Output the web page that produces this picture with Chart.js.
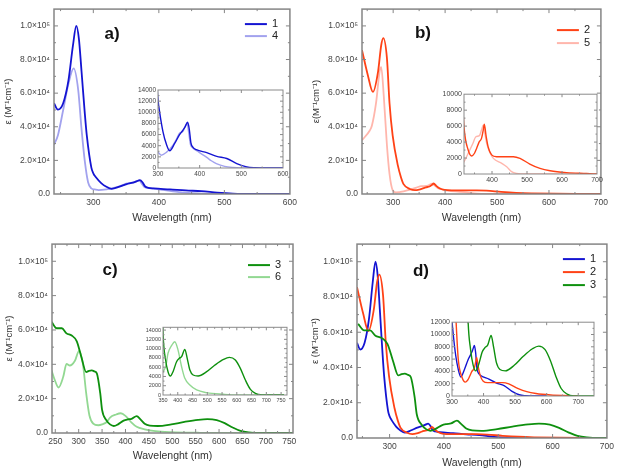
<!DOCTYPE html>
<html>
<head>
<meta charset="utf-8">
<script src="https://cdn.jsdelivr.net/npm/chart.js@4.4.1/dist/chart.umd.min.js"></script>
<style>
body { margin: 0; background: #fff; }
#wrap { position: relative; width: 618px; height: 470px; overflow: hidden; }
canvas { position: absolute; }
</style>
</head>
<body>
<div id="wrap"></div>
<script>
// compound 1 (dark blue)
var wl1 = [240, 246, 254, 262, 269, 274, 278, 282, 287, 290, 297, 300, 304, 312, 320, 328, 340, 351, 358, 365, 371, 375, 379, 384, 392, 417, 441, 465, 489, 513, 533, 560, 600];
var eps1 = [54000, 50200, 54000, 67400, 88500, 100000, 92300, 73000, 48000, 35000, 15700, 12300, 10000, 6500, 4300, 3100, 4400, 5900, 6600, 7400, 8200, 7000, 4500, 3700, 3300, 2760, 2100, 1700, 800, 200, 50, 0, 0];
// compound 4 (light blue)
var wl4 = [240, 246, 254, 262, 270, 277, 282, 287, 292, 297, 302, 308, 320, 336, 345, 352, 360, 366, 370, 374, 378, 385, 395, 405, 417, 428, 440, 460, 480, 500, 600];
var eps4 = [29300, 35000, 50000, 65500, 74700, 61700, 38700, 19500, 7000, 3300, 2700, 2300, 2800, 4100, 5300, 6300, 6600, 7600, 7900, 6200, 4200, 3500, 3000, 2500, 1900, 1300, 800, 300, 100, 30, 0];
// compound 2 (red)
var wl2 = [240, 251, 261, 271, 277, 281, 288, 293, 299, 309, 315, 320, 332, 342, 350, 356, 363, 370, 375, 378, 383, 389, 399, 413, 440, 461, 480, 508, 537, 566, 613, 670, 700];
var eps2 = [85600, 71000, 60700, 73000, 88500, 92700, 80800, 54000, 34900, 17000, 10000, 5900, 3000, 2250, 2600, 3200, 4000, 4460, 5500, 6250, 4800, 3400, 2400, 2170, 2170, 2170, 1960, 1250, 700, 400, 170, 60, 0];
// compound 5 (light red)
var wl5 = [240, 255, 259, 267, 274, 277, 282, 288, 293, 299, 305, 320, 332, 345, 354, 364, 370, 375, 380, 385, 395, 404, 428, 442, 456, 470, 500, 700];
var eps5 = [32000, 37800, 40600, 54000, 73000, 75500, 57900, 29000, 11900, 2300, 1000, 1540, 2600, 3800, 4670, 4800, 5500, 6100, 5000, 3800, 2600, 1960, 1330, 900, 290, 80, 0, 0];
// compound 3 (dark green)
var wl3 = [242, 253, 264, 274, 285, 296, 306, 316, 322, 328, 334, 339, 346, 350, 359, 367, 375, 384, 396, 405, 413, 424, 432, 441, 452, 469, 498, 526, 555, 575, 595, 612, 629, 646, 663, 686, 760];
var eps3 = [64700, 61000, 61000, 58000, 56800, 53400, 44000, 35500, 36200, 36500, 35800, 34600, 23300, 13500, 7500, 5030, 4090, 5030, 7180, 7900, 8260, 9840, 7900, 5380, 4310, 4090, 5030, 6460, 7680, 8110, 7540, 5740, 3230, 1220, 360, 0, 0];
// compound 6 (light green)
var wl6 = [242, 249, 257, 267, 274, 281, 292, 301, 309, 316, 323, 331, 342, 350, 360, 367, 380, 390, 401, 413, 424, 441, 464, 498, 555, 600, 760];
var eps6 = [36500, 30800, 26500, 32700, 40200, 39300, 42100, 47800, 40200, 23300, 10200, 5500, 4500, 5000, 6400, 9000, 10770, 11490, 9690, 6100, 3590, 2150, 1080, 500, 150, 0, 0];

// tick values
var yMainTicks = [0, 20000, 40000, 60000, 80000, 100000];
var xTicksA = [300, 400, 500, 600];
var xTicksBD = [300, 400, 500, 600, 700];
var xTicksC = [250, 300, 350, 400, 450, 500, 550, 600, 650, 700, 750];
var xInsetA = [300, 400, 500, 600];
var xInsetB = [400, 500, 600, 700];
var xInsetC = [350, 400, 450, 500, 550, 600, 650, 700, 750];
var xInsetD = [300, 400, 500, 600, 700];
var yInsetA = [0, 2000, 4000, 6000, 8000, 10000, 12000, 14000];
var yInsetB = [0, 2000, 4000, 6000, 8000, 10000];
var yInsetC = [0, 2000, 4000, 6000, 8000, 10000, 12000, 14000];
var yInsetD = [0, 2000, 4000, 6000, 8000, 10000, 12000];

var FONT = '"Liberation Sans", Arial, sans-serif';
var c1 = '#1414d2', c4 = '#a2a2ee', c2 = '#ff4216', c5 = '#ffb6ac', c3 = '#0e900e', c6 = '#92d892';

function pts(wl, eps) {
    return wl.map(function (w, i) { return {x: w, y: eps[i]}; });
}
var sup = {'0':'⁰','1':'¹','2':'²','3':'³','4':'⁴','5':'⁵','6':'⁶','7':'⁷','8':'⁸','9':'⁹'};
function sci(v) {
    if (v === 0) return '0.0';
    var e = Math.floor(Math.log10(v) + 1e-9);
    var m = v / Math.pow(10, e);
    return m.toFixed(1) + '×10' + String(e).split('').map(function (d) { return sup[d]; }).join('');
}
function fixTicks(arr) {
    return function (s) { s.ticks = arr.map(function (v) { return {value: v}; }); };
}

// frame, inward ticks, panel tag and legend drawn inside the plot area
var framePlugin = {
    id: 'frame',
    beforeDatasetsDraw: function (chart, args, o) {
        if (!o.fill) return;
        var a = chart.chartArea, ctx = chart.ctx;
        ctx.save();
        ctx.fillStyle = '#fff';
        ctx.fillRect(a.left, a.top, a.right - a.left, a.bottom - a.top);
        ctx.restore();
    },
    afterDraw: function (chart, args, o) {
        var a = chart.chartArea, ctx = chart.ctx, xs = chart.scales.x, ys = chart.scales.y;
        ctx.save();
        ctx.strokeStyle = o.color;
        ctx.lineWidth = o.width;
        ctx.strokeRect(a.left, a.top, a.right - a.left, a.bottom - a.top);
        ctx.lineWidth = 1;
        ctx.beginPath();
        var L = o.tick, l = o.tick / 2;
        function xt(v, len) {
            var p = xs.getPixelForValue(v);
            if (p < a.left + 1 || p > a.right - 1) return;
            ctx.moveTo(p, a.bottom); ctx.lineTo(p, a.bottom - len);
            ctx.moveTo(p, a.top); ctx.lineTo(p, a.top + len);
        }
        function yt(v, len) {
            var p = ys.getPixelForValue(v);
            if (p < a.top + 1 || p > a.bottom - 1) return;
            ctx.moveTo(a.left, p); ctx.lineTo(a.left + len, p);
            ctx.moveTo(a.right, p); ctx.lineTo(a.right - len, p);
        }
        var xv = xs.ticks.map(function (t) { return t.value; });
        var yv = ys.ticks.map(function (t) { return t.value; });
        var dx = xv[1] - xv[0], dy = yv[1] - yv[0];
        for (var k = -1; xv[0] + k * dx / 2 <= xs.max; k++) xt(xv[0] + k * dx / 2, k % 2 === 0 ? L : l);
        for (var j = 0; yv[0] + j * dy / 2 <= ys.max; j++) yt(yv[0] + j * dy / 2, j % 2 === 0 ? L : l);
        ctx.stroke();
        if (o.tag) {
            ctx.fillStyle = '#111';
            ctx.font = 'bold 17px ' + FONT;
            ctx.textAlign = 'center';
            ctx.textBaseline = 'middle';
            ctx.fillText(o.tag, a.left + o.tagX, a.top + o.tagY);
        }
        if (o.legend) {
            ctx.font = '11px ' + FONT;
            ctx.textAlign = 'left';
            ctx.textBaseline = 'middle';
            o.legend.forEach(function (it, i) {
                var y = a.top + o.legY + i * o.legGap;
                ctx.strokeStyle = it.color;
                ctx.lineWidth = 2;
                ctx.beginPath();
                ctx.moveTo(a.right - o.legX, y);
                ctx.lineTo(a.right - o.legX + 22, y);
                ctx.stroke();
                ctx.fillStyle = '#222';
                ctx.fillText(it.label, a.right - o.legX + 27, y);
            });
        }
        ctx.restore();
    }
};

function makeCanvas(left, top, w, h) {
    var c = document.createElement('canvas');
    c.width = w; c.height = h;
    c.style.left = left + 'px'; c.style.top = top + 'px';
    c.style.width = w + 'px'; c.style.height = h + 'px';
    document.getElementById('wrap').appendChild(c);
    return c;
}

function lines(list, bw) {
    return list.map(function (s) {
        return {data: pts(s[0], s[1]), borderColor: s[2], borderWidth: bw, pointRadius: 0,
                cubicInterpolationMode: 'monotone', fill: false};
    });
}

function drawMain(p) {
    var cv = makeCanvas(p.left, p.top, p.w, p.h);
    return new Chart(cv, {
        type: 'line',
        data: {datasets: lines(p.series, 1.8)},
        plugins: [framePlugin],
        options: {
            responsive: false, animation: false, devicePixelRatio: 1,
            layout: {padding: {top: p.padTop, right: p.padRight, left: 0, bottom: 0}},
            plugins: {
                legend: {display: false}, tooltip: {enabled: false},
                frame: {color: '#858585', width: 1.5, tick: 4, tag: p.tag, tagX: p.tagX, tagY: p.tagY,
                        legend: p.legend, legX: p.legX, legY: p.legY, legGap: p.legGap}
            },
            scales: {
                x: {
                    type: 'linear', min: p.xmin, max: p.xmax,
                    grid: {display: false, drawTicks: false}, border: {display: false},
                    afterBuildTicks: fixTicks(p.xticks),
                    ticks: {autoSkip: false, maxRotation: 0, padding: 4,
                            color: '#444', font: {family: FONT, size: 8.5}},
                    title: {display: true, text: p.xtitle, color: '#333', font: {family: FONT, size: 10.5},
                            padding: {top: 0, bottom: p.xtPad}},
                    afterFit: function (s) { s.height = p.xh; }
                },
                y: {
                    min: 0, max: 110000,
                    grid: {display: false, drawTicks: false}, border: {display: false},
                    afterBuildTicks: fixTicks(yMainTicks),
                    ticks: {autoSkip: false, padding: 4, color: '#444',
                            font: {family: FONT, size: 8.5}, callback: function (v) { return sci(v); }},
                    title: {display: true, text: p.ytitle, color: '#333', font: {family: FONT, size: 9.5},
                            padding: {top: p.ytPad, bottom: 0}},
                    afterFit: function (s) { s.width = p.yw; }
                }
            }
        }
    });
}

function drawInset(p) {
    var cv = makeCanvas(p.left, p.top, p.w, p.h);
    return new Chart(cv, {
        type: 'line',
        data: {datasets: lines(p.series, 1.4)},
        plugins: [framePlugin],
        options: {
            responsive: false, animation: false, devicePixelRatio: 1,
            layout: {padding: {top: p.padTop, right: p.padRight, left: 0, bottom: 0}},
            plugins: {
                legend: {display: false}, tooltip: {enabled: false},
                frame: {color: '#8a8a8a', width: 1, tick: 3, fill: true}
            },
            scales: {
                x: {
                    type: 'linear', min: p.xmin, max: p.xmax,
                    grid: {display: false, drawTicks: false}, border: {display: false},
                    afterBuildTicks: fixTicks(p.xticks),
                    ticks: {autoSkip: false, maxRotation: 0, padding: 2,
                            color: '#444', font: {family: FONT, size: p.fs}, callback: function (v) { return String(v); }},
                    afterFit: function (s) { s.height = p.xh; }
                },
                y: {
                    min: 0, max: p.ymax,
                    grid: {display: false, drawTicks: false}, border: {display: false},
                    afterBuildTicks: fixTicks(p.yticks),
                    ticks: {autoSkip: false, padding: 2, color: '#444',
                            font: {family: FONT, size: p.fs}, callback: function (v) { return String(v); }},
                    afterFit: function (s) { s.width = p.yw; }
                }
            }
        }
    });
}

var yTitle = 'ε (M⁻¹cm⁻¹)';

// a)
drawMain({left: 0, top: 0, w: 301, h: 230, padTop: 2, padRight: 8, yw: 54, xh: 36,
    xmin: 240, xmax: 600, xticks: xTicksA, xtitle: 'Wavelength (nm)', ytitle: yTitle, xtPad: 6, ytPad: 3,
    series: [[wl1, eps1, c1], [wl4, eps4, c4]],
    tag: 'a)', tagX: 58, tagY: 25,
    legend: [{label: '1', color: c1}, {label: '4', color: c4}], legX: 45, legY: 15, legGap: 12});
drawInset({left: 128, top: 84, w: 163, h: 96, padTop: 6, padRight: 8, yw: 30, xh: 12,
    xmin: 300, xmax: 600, xticks: xInsetA, yticks: yInsetA, ymax: 14000, fs: 6.5,
    series: [[wl1, eps1, c1], [wl4, eps4, c4]]});

// b)
drawMain({left: 308, top: 0, w: 304, h: 230, padTop: 2, padRight: 10, yw: 54, xh: 36,
    xmin: 240, xmax: 700, xticks: xTicksBD, xtitle: 'Wavelength (nm)', ytitle: 'ε(M⁻¹cm⁻¹)', xtPad: 6, ytPad: 3,
    series: [[wl2, eps2, c2], [wl5, eps5, c5]],
    tag: 'b)', tagX: 61, tagY: 24,
    legend: [{label: '2', color: c2}, {label: '5', color: c5}], legX: 44, legY: 21, legGap: 13});
drawInset({left: 434, top: 88, w: 171, h: 98, padTop: 6, padRight: 8, yw: 30, xh: 12,
    xmin: 320, xmax: 700, xticks: xInsetB, yticks: yInsetB, ymax: 10000, fs: 7,
    series: [[wl2, eps2, c2], [wl5, eps5, c5]]});

// c)
drawMain({left: 0, top: 235, w: 301, h: 234, padTop: 3, padRight: 8, yw: 52, xh: 36,
    xmin: 243, xmax: 758, xticks: xTicksC, xtitle: 'Wavelenght (nm)', ytitle: yTitle, xtPad: 7, ytPad: 4,
    series: [[wl3, eps3, c3], [wl6, eps6, c6]],
    tag: 'c)', tagX: 58, tagY: 26,
    legend: [{label: '3', color: c3}, {label: '6', color: c6}], legX: 45, legY: 21, legGap: 12});
drawInset({left: 138, top: 322, w: 155, h: 83, padTop: 5, padRight: 6, yw: 25, xh: 10,
    xmin: 350, xmax: 770, xticks: xInsetC, yticks: yInsetC, ymax: 14600, fs: 5.5,
    series: [[wl3, eps3, c3], [wl6, eps6, c6]]});

// d)
drawMain({left: 308, top: 235, w: 310, h: 235, padTop: 2, padRight: 8, yw: 49, xh: 32,
    xmin: 240, xmax: 700, xticks: xTicksBD, xtitle: 'Wavelength (nm)', ytitle: yTitle, xtPad: 1, ytPad: 1.5,
    series: [[wl3, eps3, c3], [wl2, eps2, c2], [wl1, eps1, c1]],
    tag: 'd)', tagX: 64, tagY: 27,
    legend: [{label: '1', color: c1}, {label: '2', color: c2}, {label: '3', color: c3}], legX: 44, legY: 15, legGap: 13});
drawInset({left: 422, top: 316, w: 180, h: 92, padTop: 6, padRight: 8, yw: 30, xh: 12,
    xmin: 300, xmax: 750, xticks: xInsetD, yticks: yInsetD, ymax: 12000, fs: 7,
    series: [[wl3, eps3, c3], [wl2, eps2, c2], [wl1, eps1, c1]]});
</script>
</body>
</html>
